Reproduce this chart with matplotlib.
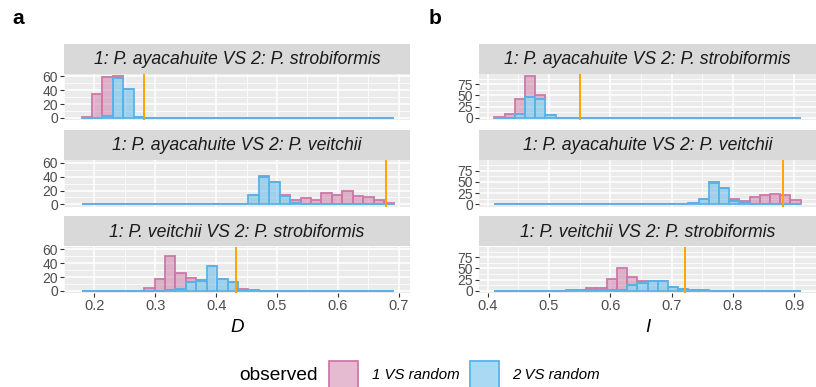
import numpy as np
import matplotlib
matplotlib.use("Agg")
import matplotlib.pyplot as plt
from matplotlib.patches import Rectangle

plt.rcParams['font.family'] = ['Liberation Sans', 'DejaVu Sans']

NBINS = 30
# Schoener's D bins
D_MIN, D_MAX = 0.179, 0.693
# Hellinger-based I bins
I_MIN, I_MAX = 0.411, 0.9106

facet_titles = ["1: P. ayacahuite VS 2: P. strobiformis",
                "1: P. ayacahuite VS 2: P. veitchii",
                "1: P. veitchii VS 2: P. strobiformis"]
group_labels = ["1 VS random", "2 VS random"]


def counts(d):
    arr = [0] * NBINS
    for k, v in d.items():
        arr[k] = v
    return arr


# ---- D counts (bin index -> count) ----
D_pink = [
    counts({0: 2, 1: 35, 2: 56, 3: 4, 4: 1}),
    counts({17: 2, 19: 1, 20: 5, 21: 8, 22: 7, 23: 17, 24: 14, 25: 19,
            26: 12, 27: 11, 28: 6, 29: 2}),
    counts({6: 4, 7: 17, 8: 50, 9: 23, 10: 6, 11: 1, 15: 1, 16: 1}),
]
D_blue = [
    counts({2: 3, 3: 57, 4: 41, 5: 2}),
    counts({15: 1, 16: 14, 17: 39, 18: 33, 19: 12, 20: 2, 21: 1}),
    counts({8: 1, 9: 3, 10: 13, 11: 14, 12: 36, 13: 17, 14: 13, 15: 2, 16: 1}),
]
D_observed = [0.2823, 0.680, 0.4333]

# ---- I counts ----
I_pink = [
    counts({0: 2, 1: 9, 2: 33, 3: 47, 4: 8}),
    counts({21: 2, 22: 1, 23: 5, 24: 5, 25: 15, 26: 21, 27: 24, 28: 21, 29: 10}),
    counts({8: 1, 9: 5, 10: 6, 11: 25, 12: 47, 13: 19, 14: 6, 15: 1, 17: 1}),
]
I_blue = [
    counts({2: 9, 3: 47, 4: 42, 5: 7}),
    counts({19: 2, 20: 13, 21: 48, 22: 36, 23: 7, 24: 2, 25: 1}),
    counts({7: 1, 8: 1, 9: 1, 10: 1, 11: 2, 12: 3, 13: 12, 14: 17, 15: 22,
            16: 22, 17: 8, 18: 4, 19: 2, 20: 1}),
]
I_observed = [0.5505, 0.8817, 0.7213]

PINK = "#CC79A7"
BLUE = "#56B4E9"
ORANGE = "#FFA500"
PANEL_BG = "#EBEBEB"
STRIP_BG = "#D9D9D9"

W, H = 816, 387
fig = plt.figure(figsize=(W / 100, H / 100), dpi=100)


def rect(x0, y0, x1, y1):
    return [x0 / W, 1 - y1 / H, (x1 - x0) / W, (y1 - y0) / H]


strip_rows = [(43.5, 73.5), (130, 160), (216.5, 246.5)]
panel_rows = [(73.5, 120), (160, 206.5), (246.5, 293)]


def rgba(c, a):
    c = matplotlib.colors.to_rgb(c)
    return (c[0], c[1], c[2], a)


def draw_column(x0, x1, vmin, vmax, pinks, blues, obs, xticks, xminor,
                yticks, yminor, xlabel, letter, letter_x):
    edges = np.linspace(vmin, vmax, NBINS + 1)
    widths = np.diff(edges)
    lefts = edges[:-1]
    span = vmax - vmin
    xlim = (vmin - 0.05 * span, vmax + 0.05 * span)
    ymax = max(max(np.array(p) + np.array(b)) for p, b in zip(pinks, blues))
    ylim = (-0.05 * ymax, 1.05 * ymax)
    axes = []
    for i in range(3):
        s0, s1 = strip_rows[i]
        sax = fig.add_axes(rect(x0, s0, x1, s1))
        sax.set_facecolor(STRIP_BG)
        sax.set_xticks([]); sax.set_yticks([])
        for sp in sax.spines.values():
            sp.set_visible(False)
        sax.text(0.5, 0.47, facet_titles[i], ha='center', va='center',
                 fontsize=12.7, style='italic', color='#1A1A1A',
                 transform=sax.transAxes)

        p0, p1 = panel_rows[i]
        ax = fig.add_axes(rect(x0, p0, x1, p1))
        ax.set_facecolor(PANEL_BG)
        for sp in ax.spines.values():
            sp.set_visible(False)
        ax.set_xlim(*xlim)
        ax.set_ylim(*ylim)
        ax.set_xticks(xticks)
        ax.set_xticks(xminor, minor=True)
        ax.set_yticks(yticks)
        ax.set_yticks(yminor, minor=True)
        ax.grid(True, which='major', color='white', lw=1.1)
        ax.grid(True, which='minor', color='white', lw=0.55)
        ax.set_axisbelow(True)
        ax.tick_params(which='minor', length=0)
        ax.tick_params(which='major', length=2.75, width=0.8, color='#333333',
                       labelcolor='#4D4D4D', pad=1.5)
        ax.tick_params(axis='y', labelsize=10)
        ax.tick_params(axis='x', labelsize=10.5)
        ax.set_yticklabels([str(int(t)) for t in yticks])
        if i < 2:
            ax.tick_params(axis='x', which='major', length=0, labelbottom=False)
        else:
            ax.set_xticklabels(["%.1f" % t for t in xticks])
        blue = np.array(blues[i], dtype=float)
        pink = np.array(pinks[i], dtype=float)
        ax.bar(lefts, pink, width=widths, bottom=blue, align='edge',
               facecolor=rgba(PINK, 0.5), edgecolor=PINK, lw=1.3, zorder=2)
        ax.bar(lefts, blue, width=widths, align='edge',
               facecolor=rgba(BLUE, 0.5), edgecolor=BLUE, lw=1.3, zorder=3)
        ax.axvline(obs[i], color=ORANGE, lw=1.4, zorder=4)
        axes.append(ax)
    fig.text((x0 + x1) / 2 / W, 1 - 328 / H, xlabel, ha='center', va='center',
             fontsize=13.5, style='italic', color='black')
    fig.text(letter_x / W, 1 - 19 / H, letter, ha='center', va='center',
             fontsize=15, weight='bold', color='black')
    return axes


draw_column(64, 410, D_MIN, D_MAX, D_pink, D_blue, D_observed,
            [0.2, 0.3, 0.4, 0.5, 0.6, 0.7], [0.15, 0.25, 0.35, 0.45, 0.55, 0.65],
            [0, 20, 40, 60], [10, 30, 50], "D", "a", 18.5)
draw_column(479, 816, I_MIN, I_MAX, I_pink, I_blue, I_observed,
            [0.4, 0.5, 0.6, 0.7, 0.8, 0.9], [0.45, 0.55, 0.65, 0.75, 0.85],
            [0, 25, 50, 75], [12.5, 37.5, 62.5, 87.5], "I", "b", 435)

# legend
fig.text(239 / W, 1 - 375 / H, "observed", ha='left', va='center',
         fontsize=13.8, color='black')
key_specs = [(329, PINK, 372, group_labels[0]), (470, BLUE, 512, group_labels[1])]
for kx, col, tx, lab in key_specs:
    fig.patches.append(Rectangle((kx / W, 1 - 389 / H), 29 / W, 28.5 / H,
                                 transform=fig.transFigure,
                                 facecolor=rgba(col, 0.5), edgecolor=col, lw=1.3))
    fig.text(tx / W, 1 - 375 / H, lab, ha='left', va='center', fontsize=10.8,
             style='italic', color='black')

fig.savefig("out.png", dpi=100)
